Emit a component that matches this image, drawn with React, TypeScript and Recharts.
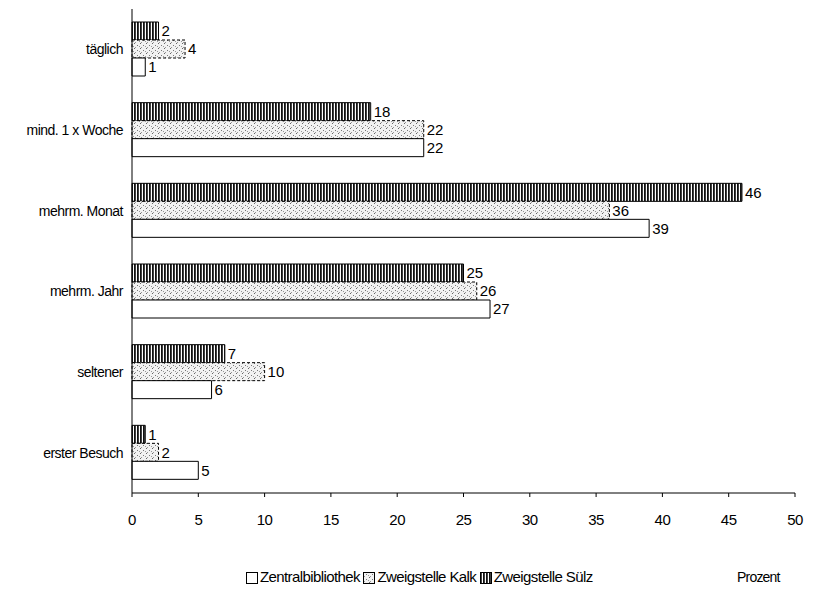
import React from 'react';
import { BarChart, Bar, XAxis, YAxis, LabelList } from 'recharts';

const categories = ['täglich', 'mind. 1 x Woche', 'mehrm. Monat', 'mehrm. Jahr', 'seltener', 'erster Besuch'];
const suelz = [2, 18, 46, 25, 7, 1];
const kalk = [4, 22, 36, 26, 10, 2];
const zentral = [1, 22, 39, 27, 6, 5];
const xTicks = [0, 5, 10, 15, 20, 25, 30, 35, 40, 45, 50];

const data = categories.map((name, i) => ({
  name,
  suelz: suelz[i],
  kalk: kalk[i],
  zentral: zentral[i],
}));

const font = '"Liberation Sans", Arial, sans-serif';

function Swatch({ fill }: { fill: string }) {
  return (
    <svg width={12} height={12} style={{ verticalAlign: 'middle', marginRight: 2 }}>
      <rect x={0.5} y={0.5} width={11} height={11} fill={fill} stroke="#000" strokeWidth={1} />
    </svg>
  );
}

export default function App() {
  return (
    <div style={{ position: 'relative', width: 810, height: 587, fontFamily: font }}>
      <svg width={0} height={0} style={{ position: 'absolute' }}>
        <defs>
          <pattern id="stripes" width={3} height={4} patternUnits="userSpaceOnUse">
            <rect width={3} height={4} fill="#fff" />
            <rect width={1.8} height={4} fill="#111" />
          </pattern>
          <pattern id="dots" width={6} height={5} patternUnits="userSpaceOnUse">
            <rect width={6} height={5} fill="#f2f2f2" />
            <rect x={0} y={0} width={1} height={1} fill="#666" />
            <rect x={3} y={2} width={1} height={1} fill="#777" />
            <rect x={1} y={4} width={1} height={1} fill="#999" />
            <rect x={5} y={3} width={1} height={1} fill="#999" />
          </pattern>
        </defs>
      </svg>
      <BarChart
        width={810}
        height={587}
        layout="vertical"
        data={data}
        margin={{ top: 1, right: 23, bottom: 72, left: 0 }}
        barGap={0}
      >
        <XAxis
          type="number"
          domain={[0, 50]}
          ticks={xTicks}
          height={30}
          tickMargin={17}
          tickSize={4}
          stroke="#000"
          tick={{ fill: '#000', fontSize: 15, fontFamily: font, letterSpacing: -0.5 }}
        />
        <YAxis
          type="category"
          dataKey="name"
          width={124}
          tickLine={false}
          tickMargin={3}
          stroke="#000"
          tick={{ fill: '#000', fontSize: 14, fontFamily: font, letterSpacing: -0.5 }}
        />
        <Bar dataKey="suelz" barSize={18} fill="url(#stripes)" stroke="#000" strokeWidth={1} isAnimationActive={false}>
          <LabelList dataKey="suelz" position="right" offset={3} fill="#000" fontSize={15} fontFamily={font} />
        </Bar>
        <Bar dataKey="kalk" barSize={18} fill="url(#dots)" stroke="#000" strokeWidth={1} strokeDasharray="3 2" isAnimationActive={false}>
          <LabelList dataKey="kalk" position="right" offset={3} fill="#000" fontSize={15} fontFamily={font} />
        </Bar>
        <Bar dataKey="zentral" barSize={18} fill="#fff" stroke="#000" strokeWidth={1} isAnimationActive={false}>
          <LabelList dataKey="zentral" position="right" offset={3} fill="#000" fontSize={15} fontFamily={font} />
        </Bar>
      </BarChart>
      <div style={{ position: 'absolute', left: 729, top: 561, fontSize: 14, letterSpacing: -0.8 }}>Prozent</div>
      <div style={{ position: 'absolute', left: 238, top: 560, fontSize: 15, letterSpacing: -0.6, whiteSpace: 'nowrap' }}>
        <Swatch fill="#fff" />Zentralbibliothek <Swatch fill="url(#dots)" />Zweigstelle Kalk <Swatch fill="url(#stripes)" />Zweigstelle Sülz
      </div>
    </div>
  );
}
